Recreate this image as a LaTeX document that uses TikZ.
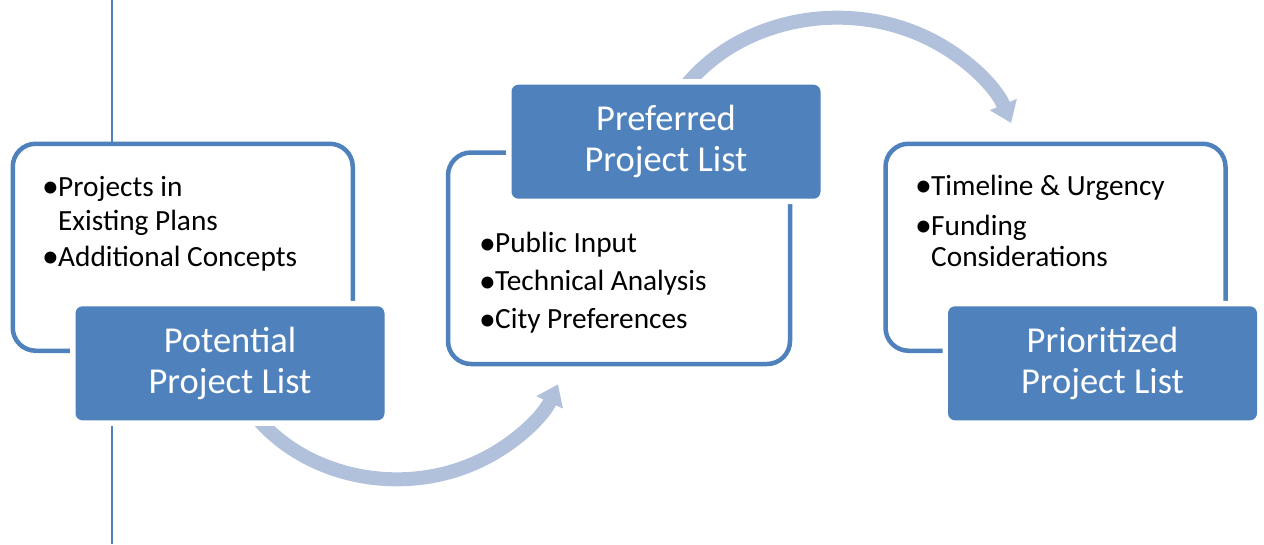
\documentclass[tikz,border=0pt]{standalone}
\usepackage{fontspec}
\setmainfont{Carlito}
\usetikzlibrary{arrows.meta}
\pgfdeclarelayer{bg}
\pgfsetlayers{bg,main}
\definecolor{acc}{RGB}{79,129,189}
\definecolor{arr}{RGB}{178,193,219}
\newcommand\bulmark{\makebox[13pt][l]{\hspace*{-3pt}\raisebox{-1.5pt}{\scalebox{1.15}{•}}}}
\newcommand\bulgap{\hspace*{13pt}}
\begin{document}
\begin{tikzpicture}[x=1pt,y=-1pt,
  listbox/.style={draw=acc, line width=4.5pt, fill=white, rounded corners=23pt,
    minimum width=340pt, minimum height=207pt, inner sep=0pt, outer sep=0pt},
  titlebox/.style={fill=acc, rounded corners=7pt, minimum width=309pt, minimum height=114pt,
    inner sep=0pt, outer sep=0pt, text=white, align=center,
    font=\fontsize{36.5}{41}\selectfont, preaction={draw=white, line width=11pt}},
  bullets/.style={anchor=base west, inner sep=0pt, text=black},
  flow/.style={draw=arr, line width=14pt, -{Triangle[width=28pt,length=20pt]}},
  vline/.style={draw=acc, line width=2.3pt}
]
\useasboundingbox (0,0) rectangle (1264,544);
\node[listbox] (l1) at (182.75,247.25) {};
\node[listbox, minimum width=342pt, minimum height=211.5pt] (l2) at (619,258.25) {};
\node[listbox] (l3) at (1055.5,247.25) {};
\node[titlebox] (p1) at (230,363.3) {Potential\\Project List};
\node[titlebox] (p2) at (666,141.7) {Preferred\\Project List};
\node[titlebox] (p3) at (1102.5,363.3) {Prioritized\\Project List};
\node[bullets] (t1) at (45,196) {\parbox[t]{320pt}{\fontsize{29.3}{31}\selectfont\raggedright
  \bulmark Projects in\\[3pt]\bulgap Existing Plans\\[5pt]\bulmark Additional Concepts}};
\node[bullets] (t2) at (482,252.7) {\parbox[t]{320pt}{\fontsize{29.3}{31}\selectfont\raggedright
  \bulmark Public Input\\[7pt]\bulmark Technical Analysis\\[7pt]\bulmark City Preferences}};
\node[bullets] (t3) at (918,195) {\parbox[t]{320pt}{\fontsize{29.3}{31}\selectfont\raggedright
  \bulmark Timeline \& Urgency\\[9pt]\bulmark Funding\\\bulgap Considerations}};
\coordinate (vtop) at (112,0);
\coordinate (vbot) at (112,544);
\begin{pgfonlayer}{bg}
  \fill[white] (0,0) rectangle (1264,544);
  \draw[vline] (vtop) -- (vbot);
  \draw[flow] ([shift={(16,-17)}]p1.south) arc[start angle=150, end angle=22, x radius=174, y radius=152];
  \draw[flow] ([shift={(11,13)}]p2.north) arc[start angle=-150, end angle=-20, x radius=185, y radius=160];
\end{pgfonlayer}
\end{tikzpicture}
\end{document}
